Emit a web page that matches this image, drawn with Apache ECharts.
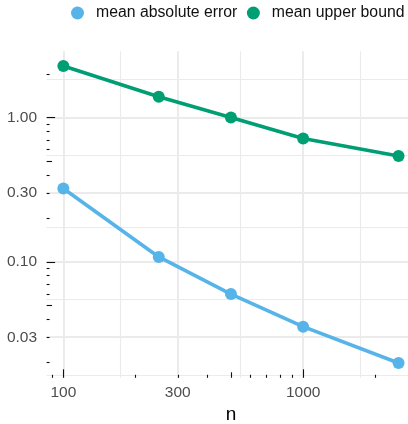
<!DOCTYPE html>
<html>
<head>
<meta charset="utf-8">
<script src="https://cdn.jsdelivr.net/npm/echarts@6/dist/echarts.min.js"></script>
<style>
html,body{margin:0;padding:0;background:#fff;}
#chart{width:408px;height:424px;}
</style>
</head>
<body>
<div id="chart"></div>
<script>
// ---- data ----
const nValues = [100, 250, 500, 1000, 2500];
const meanAbsoluteError = [0.322, 0.108, 0.0597, 0.0355, 0.0199];
const meanUpperBound = [2.27, 1.39, 1.00, 0.715, 0.540];
const seriesNames = ['mean absolute error', 'mean upper bound'];
const xTickLabels = [100, 300, 1000];
const yTickLabels = [0.03, 0.1, 0.3, 1];

// ---- scale helpers (ggplot-like log10 scales) ----
const log10 = Math.log10;
function expandLimits(vals) {
  const lo = log10(Math.min(...vals)), hi = log10(Math.max(...vals));
  const r = hi - lo;
  return [lo - 0.05 * r, hi + 0.05 * r];
}
const xLim = expandLimits(nValues);
const yLim = expandLimits(meanAbsoluteError.concat(meanUpperBound));

function minorBreaks(breaks, lim) {
  let b = breaks.map(log10).filter(v => v >= lim[0] && v <= lim[1]);
  const bd = b[1] - b[0];
  if (lim[0] < b[0]) b = [b[0] - bd].concat(b);
  if (lim[1] > b[b.length - 1]) b = b.concat([b[b.length - 1] + bd]);
  const out = [];
  for (let i = 0; i < b.length - 1; i++) out.push(b[i] + (b[i + 1] - b[i]) / 2);
  return out.filter(v => v >= lim[0] && v <= lim[1]).map(v => Math.pow(10, v));
}
function logTicks(lim) {
  const s = [], m = [], l = [];
  for (let e = Math.floor(lim[0]); e <= Math.ceil(lim[1]); e++) {
    for (let k = 1; k <= 9; k++) {
      const v = k * Math.pow(10, e);
      const lv = log10(v);
      if (lv < lim[0] || lv > lim[1]) continue;
      if (k === 1) l.push(v); else if (k === 5) m.push(v); else s.push(v);
    }
  }
  return [s, m, l];
}
const xMinor = minorBreaks(xTickLabels, xLim);
const yMinor = minorBreaks(yTickLabels, yLim);
const xLT = logTicks(xLim);
const yLT = logTicks(yLim);

const FONT = 'Liberation Sans';
const colors = ['#56B4E9', '#009E73'];
const gridCol = '#EBEBEB';
const tickLens = [3, 5.5, 8.5];

function baseAxis(lim) {
  return {
    type: 'log', logBase: 10, gridIndex: 0,
    min: Math.pow(10, lim[0]), max: Math.pow(10, lim[1]),
    axisLine: {show: false},
    axisPointer: {show: false}
  };
}
function gridAxis(lim, vals, width, pos) {
  return Object.assign(baseAxis(lim), {
    position: pos,
    axisTick: {show: false, customValues: vals},
    axisLabel: {show: false},
    splitLine: {show: true, lineStyle: {color: gridCol, width: width}}
  });
}
function tickAxis(lim, vals, len, pos) {
  return Object.assign(baseAxis(lim), {
    position: pos,
    axisTick: {show: true, inside: true, length: len, customValues: vals,
      lineStyle: {color: '#111', width: 1.1}},
    axisLabel: {show: false},
    splitLine: {show: false}
  });
}

const xAxes = [
  Object.assign(gridAxis(xLim, xTickLabels, 1.9, 'bottom'), {
    axisLabel: {show: true, customValues: xTickLabels, margin: 7,
      color: '#4D4D4D', fontSize: 15.5, fontFamily: FONT,
      formatter: v => String(Math.round(v))},
    name: 'n', nameLocation: 'middle', nameGap: 27,
    nameTextStyle: {color: '#000', fontSize: 19, fontFamily: FONT}
  }),
  gridAxis(xLim, xMinor, 1.1, 'bottom'),
  tickAxis(xLim, xLT[0], tickLens[0], 'bottom'),
  tickAxis(xLim, xLT[1], tickLens[1], 'bottom'),
  tickAxis(xLim, xLT[2], tickLens[2], 'bottom')
];
const yAxes = [
  Object.assign(gridAxis(yLim, yTickLabels, 1.9, 'left'), {
    axisLabel: {show: true, customValues: yTickLabels, margin: 9.5,
      color: '#4D4D4D', fontSize: 15.5, fontFamily: FONT,
      formatter: v => v.toFixed(2)}
  }),
  gridAxis(yLim, yMinor, 1.1, 'left'),
  tickAxis(yLim, yLT[0], tickLens[0], 'left'),
  tickAxis(yLim, yLT[1], tickLens[1], 'left'),
  tickAxis(yLim, yLT[2], tickLens[2], 'left')
];

function pairs(ys) { return nValues.map((x, i) => [x, ys[i]]); }

const chart = echarts.init(document.getElementById('chart'), null, {renderer: 'canvas'});
chart.setOption({
  animation: false,
  backgroundColor: '#fff',
  textStyle: {fontFamily: FONT},
  color: colors,
  legend: {
    data: seriesNames,
    left: 66, top: 0, width: 400, orient: 'horizontal',
    icon: 'circle', itemWidth: 13, itemHeight: 13, itemGap: 9.5,
    textStyle: {color: '#111', fontSize: 15.8, fontFamily: FONT, padding: [0, 0, 0, 7]}
  },
  grid: {left: 46.6, top: 51.2, width: 368.7, height: 326.6,
         containLabel: false, outerBoundsMode: 'none'},
  xAxis: xAxes,
  yAxis: yAxes,
  series: [
    {name: seriesNames[0], type: 'line', xAxisIndex: 0, yAxisIndex: 0,
     data: pairs(meanAbsoluteError), symbol: 'circle', symbolSize: 12,
     lineStyle: {width: 3.6, color: colors[0]}, itemStyle: {color: colors[0]}},
    {name: seriesNames[1], type: 'line', xAxisIndex: 0, yAxisIndex: 0,
     data: pairs(meanUpperBound), symbol: 'circle', symbolSize: 12,
     lineStyle: {width: 3.6, color: colors[1]}, itemStyle: {color: colors[1]}}
  ]
});
</script>
</body>
</html>
